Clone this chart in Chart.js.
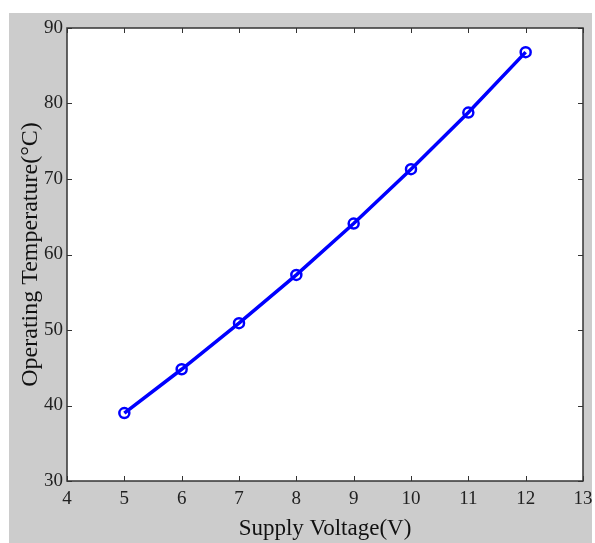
<!DOCTYPE html>
<html>
<head>
<meta charset="utf-8">
<script src="https://cdn.jsdelivr.net/npm/chart.js@4"></script>
<style>
  html, body { margin: 0; padding: 0; background: #fff; }
  #wrap { width: 595px; height: 543px; }
</style>
</head>
<body>
<div id="wrap"><canvas id="myChart" width="595" height="543"></canvas></div>
<script>
// supply voltage (V) and operating temperature (°C)
let voltage = [5, 6, 7, 8, 9, 10, 11, 12];
let temperature = [39.0, 44.8, 50.9, 57.3, 64.1, 71.3, 78.8, 86.8];
let xTicks = [4, 5, 6, 7, 8, 9, 10, 11, 12, 13];
let yTicks = [30, 40, 50, 60, 70, 80, 90];

let serif = '"Liberation Serif", "DejaVu Serif", serif';

// grey figure background + white axes box, matlab style
let frame = {
    id: 'frame',
    beforeDraw(chart) {
        let c = chart.ctx, a = chart.chartArea;
        c.save();
        c.fillStyle = '#cccccc';
        c.fillRect(9, 13, 583, 530);
        c.fillStyle = '#ffffff';
        c.fillRect(a.left, a.top, a.right - a.left, a.bottom - a.top);
        c.restore();
    },
    afterDatasetsDraw(chart) {
        let c = chart.ctx, a = chart.chartArea;
        let xs = chart.scales.x, ys = chart.scales.y;
        c.save();
        c.strokeStyle = '#333333';
        c.lineWidth = 1;
        c.beginPath();
        // inward ticks on all four sides
        xTicks.forEach(v => {
            let px = Math.round(xs.getPixelForValue(v)) + 0.5;
            c.moveTo(px, a.bottom); c.lineTo(px, a.bottom - 5);
            c.moveTo(px, a.top); c.lineTo(px, a.top + 5);
        });
        yTicks.forEach(v => {
            let py = Math.round(ys.getPixelForValue(v)) + 0.5;
            c.moveTo(a.left, py); c.lineTo(a.left + 5, py);
            c.moveTo(a.right, py); c.lineTo(a.right - 5, py);
        });
        c.stroke();
        c.lineWidth = 1.5;
        c.strokeRect(a.left, a.top, a.right - a.left, a.bottom - a.top);
        c.restore();
    }
};

let ctx = document.getElementById('myChart');
let myChart = new Chart(ctx, {
    type: 'line',
    data: {
        datasets: [{
            data: voltage.map((v, i) => ({ x: v, y: temperature[i] })),
            borderColor: '#0000ff',
            backgroundColor: 'rgba(0,0,0,0)',
            borderWidth: 3.5,
            pointRadius: 5,
            pointBorderWidth: 2.5,
            pointBorderColor: '#0000ff',
            pointBackgroundColor: 'rgba(0,0,0,0)',
            tension: 0
        }]
    },
    options: {
        responsive: false,
        animation: false,
        layout: { padding: { left: 0, top: 28, right: 12, bottom: 0 } },
        plugins: { legend: { display: false }, tooltip: { enabled: false } },
        scales: {
            x: {
                type: 'linear',
                min: 4, max: 13,
                afterBuildTicks: s => { s.ticks = xTicks.map(v => ({ value: v })); },
                afterFit: s => { s.height = 62; s.paddingRight = 0; s.paddingLeft = 0; },
                grid: { display: false, drawTicks: false, tickLength: 0 },
                border: { display: false },
                ticks: { color: '#222', padding: 7, font: { family: serif, size: 19 } },
                title: { display: true, text: 'Supply Voltage(V)', color: '#111',
                         font: { family: serif, size: 23 }, padding: { top: 6, bottom: 0 } }
            },
            y: {
                min: 30, max: 90,
                afterBuildTicks: s => { s.ticks = yTicks.map(v => ({ value: v })); },
                afterFit: s => { s.width = 67; s.paddingTop = 0; s.paddingBottom = 0; },
                grid: { display: false, drawTicks: false, tickLength: 0 },
                border: { display: false },
                ticks: { color: '#222', padding: 4, font: { family: serif, size: 19 } },
                title: { display: true, text: 'Operating Temperature(°C)', color: '#111',
                         font: { family: serif, size: 24 }, padding: { top: 16, bottom: 0 } }
            }
        }
    },
    plugins: [frame]
});
</script>
</body>
</html>
